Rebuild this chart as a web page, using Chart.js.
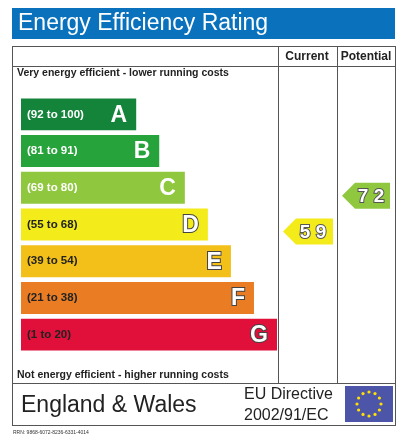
<!DOCTYPE html>
<html><head><meta charset="utf-8">
<script src="https://cdn.jsdelivr.net/npm/chart.js@4"></script>
<style>html,body{margin:0;padding:0;background:#fff}#wrap{width:408px;height:437px}</style>
</head><body><div id="wrap"><canvas id="c"></canvas></div>
<script>
// =================== DATA ===================
const bands = ["A", "B", "C", "D", "E", "F", "G"];
const ranges = ["(92 to 100)", "(81 to 91)", "(69 to 80)", "(55 to 68)", "(39 to 54)", "(21 to 38)", "(1 to 20)"];
const barLengths = [45, 54, 64, 73, 82, 91, 100];
const colors = ["#14843b", "#26a33a", "#8fc73e", "#f4ec1a", "#f2c018", "#ea7d23", "#e0103a"];
const currentRating = 59, currentBand = "D";
const potentialRating = 72, potentialBand = "C";

function arrow(ctx, x, y, w, h, color, txt) {
  ctx.fillStyle = color;
  ctx.beginPath();
  ctx.moveTo(x, y + h / 2);
  ctx.lineTo(x + h / 2, y);
  ctx.lineTo(x + w, y);
  ctx.lineTo(x + w, y + h);
  ctx.lineTo(x + h / 2, y + h);
  ctx.closePath();
  ctx.fill();
  ctx.font = "bold 19px Liberation Sans";
  ctx.textAlign = "center"; ctx.textBaseline = "middle";
  ctx.lineWidth = 2; ctx.strokeStyle = "#555";
  ctx.strokeText(txt.split("").join(" "), x + w / 2 + 5, y + h / 2 + 1);
  ctx.fillStyle = "#fff";
  ctx.fillText(txt.split("").join(" "), x + w / 2 + 5, y + h / 2 + 1);
}

const frame = {
  id: "frame",
  beforeDraw(chart) {
    const ctx = chart.ctx;
    ctx.save();
    ctx.fillStyle = "#0a72bd";
    ctx.fillRect(12, 8, 383, 31);
    ctx.fillStyle = "#fff";
    ctx.font = "23px Liberation Sans";
    ctx.textBaseline = "middle";
    ctx.fillText("Energy Efficiency Rating", 18, 24);
    ctx.strokeStyle = "#555"; ctx.lineWidth = 1;
    ctx.strokeRect(12.5, 46.5, 383, 379);
    ctx.beginPath();
    ctx.moveTo(12, 66.5); ctx.lineTo(395, 66.5);
    ctx.moveTo(12, 383.5); ctx.lineTo(395, 383.5);
    ctx.moveTo(278.5, 46); ctx.lineTo(278.5, 383);
    ctx.moveTo(337.5, 46); ctx.lineTo(337.5, 383);
    ctx.stroke();
    ctx.fillStyle = "#222";
    ctx.font = "bold 12px Liberation Sans";
    ctx.textAlign = "center";
    ctx.fillText("Current", 307, 57);
    ctx.fillText("Potential", 366, 57);
    ctx.textAlign = "left";
    ctx.font = "bold 10.5px Liberation Sans";
    ctx.fillText("Very energy efficient - lower running costs", 17, 73);
    ctx.fillText("Not energy efficient - higher running costs", 17, 375);
    ctx.font = "23px Liberation Sans";
    ctx.fillText("England & Wales", 21, 406);
    ctx.font = "16px Liberation Sans";
    ctx.fillText("EU Directive", 244, 395);
    ctx.fillText("2002/91/EC", 244, 416);
    ctx.fillStyle = "#4d55a8";
    ctx.fillRect(345, 386, 48, 36);
    ctx.fillStyle = "#ffe000";
    for (let i = 0; i < 12; i++) {
      const a = i * Math.PI / 6;
      ctx.beginPath();
      ctx.arc(369 + 12 * Math.cos(a), 404 + 12 * Math.sin(a), 1.6, 0, 2 * Math.PI);
      ctx.fill();
    }
    ctx.fillStyle = "#333";
    ctx.font = "5px Liberation Sans";
    ctx.fillText("RRN: 9868-6072-8236-6331-4014", 13, 433);
    ctx.restore();
  },
  afterDatasetsDraw(chart) {
    const ctx = chart.ctx, meta = chart.getDatasetMeta(0);
    ctx.save();
    meta.data.forEach((bar, i) => {
      const light = i < 3;
      ctx.textBaseline = "middle";
      ctx.font = "bold 11.5px Liberation Sans";
      ctx.textAlign = "left";
      ctx.fillStyle = light ? "#fff" : "#222";
      ctx.fillText(ranges[i], 27, bar.y);
      ctx.font = "bold 23px Liberation Sans";
      ctx.textAlign = "right";
      if (!light) { ctx.lineWidth = 2; ctx.strokeStyle = "#444"; ctx.strokeText(bands[i], bar.x - 9, bar.y + 1); }
      ctx.fillStyle = "#fff";
      ctx.fillText(bands[i], bar.x - 9, bar.y + 1);
    });
    const y = chart.scales.y;
    const ci = bands.indexOf(currentBand), pi = bands.indexOf(potentialBand);
    arrow(ctx, 283, y.getPixelForValue(ci) - 6, 50, 26, colors[ci], String(currentRating));
    arrow(ctx, 342, y.getPixelForValue(pi) - 5, 48, 26, colors[pi], String(potentialRating));
    ctx.restore();
  }
};

new Chart(document.getElementById("c"), {
  type: "bar",
  data: {
    labels: bands,
    datasets: [{ data: barLengths, backgroundColor: colors, barPercentage: 0.87, categoryPercentage: 1 }]
  },
  options: {
    indexAxis: "y",
    responsive: true, maintainAspectRatio: false, animation: false,
    layout: { padding: { left: 21, right: 131, top: 96, bottom: 84 } },
    plugins: { legend: { display: false }, tooltip: { enabled: false } },
    scales: {
      x: { display: false, min: 0, max: 100 },
      y: { display: false }
    }
  },
  plugins: [frame]
});
</script></body></html>
